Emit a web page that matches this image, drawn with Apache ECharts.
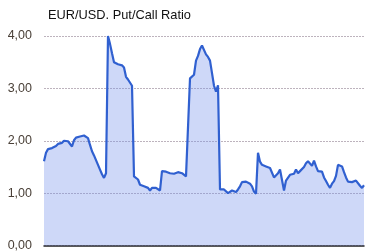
<!DOCTYPE html>
<html>
<head>
<meta charset="utf-8">
<script src="https://cdn.jsdelivr.net/npm/echarts@6/dist/echarts.min.js"></script>
<style>
html,body{margin:0;padding:0;background:#fff;}
#c{width:368px;height:252px;}
</style>
</head>
<body>
<div id="c"></div>
<script>
var titleText = 'EUR/USD. Put/Call Ratio';
var yTickLabels = ['0,00', '1,00', '2,00', '3,00', '4,00'];
var ratioValues = [
  1.61,1.77,1.84,1.87,1.86,1.88,1.90,1.94,1.93,1.96,
  2.00,2.00,1.99,1.99,1.89,2.01,2.06,2.06,2.08,2.11,
  2.10,2.10,2.05,1.92,1.80,1.72,1.63,1.54,1.45,1.36,
  1.29,1.38,4.00,3.85,3.67,3.50,3.48,3.46,3.44,3.44,
  3.40,3.22,3.17,3.14,3.05,1.32,1.29,1.26,1.16,1.16,
  1.13,1.12,1.10,1.05,1.10,1.07,1.10,1.07,1.05,1.42,
  1.40,1.41,1.40,1.38,1.40,1.37,1.38,1.40,1.37,1.38,
  1.35,1.32,1.34,3.19,3.21,3.26,3.53,3.62,3.75,3.82,
  3.80,3.65,3.60,3.53,3.29,3.05,2.94,3.06,1.07,1.10,
  1.07,1.08,1.00,1.03,1.05,1.03,1.02,1.07,1.13,1.21,
  1.21,1.22,1.21,1.18,1.13,1.03,0.99,1.77,1.60,1.54,
  1.52,1.51,1.50,1.48,1.45,1.30,1.27,1.38,1.45,1.43,
  1.05,1.24,1.27,1.35,1.35,1.37,1.45,1.38,1.42,1.45,
  1.50,1.57,1.61,1.61,1.52,1.62,1.51,1.42,1.42,1.41,
  1.30,1.23,1.16,1.10,1.18,1.23,1.33,1.54,1.53,1.51,
  1.40,1.30,1.22,1.21,1.21,1.22,1.24,1.21,1.14,1.10,
  1.15
];
var categories = ratioValues.map(function(v, i){ return String(i + 1); });

var chart = echarts.init(document.getElementById('c'), null, {renderer: 'canvas'});
chart.setOption({
  animation: false,
  backgroundColor: '#ffffff',
  title: {
    text: titleText,
    left: 43, top: 4,
    textStyle: {fontFamily: 'Liberation Sans, Arial, sans-serif', fontSize: 12.8, fontWeight: 'normal', color: '#111'}
  },
  grid: {left: 44, right: 4, top: 36, bottom: 6, containLabel: false},
  xAxis: {
    type: 'category',
    data: categories,
    boundaryGap: false,
    axisLine: {show: true, lineStyle: {color: '#222', width: 1.5}},
    axisTick: {show: false},
    axisLabel: {show: false},
    splitLine: {show: false}
  },
  yAxis: {
    type: 'value',
    min: 0, max: 4, interval: 1,
    axisLine: {show: false},
    axisTick: {show: false},
    axisLabel: {
      margin: 12,
      color: '#4a4038',
      fontFamily: 'Liberation Sans, Arial, sans-serif',
      fontSize: 12.5,
      formatter: function(v){ return yTickLabels[Math.round(v)]; }
    },
    splitLine: {show: true, lineStyle: {color: '#bdb3bd', type: [2, 1], width: 1}}
  },
  series: [{
    type: 'line',
    data: ratioValues,
    showSymbol: false,
    symbol: 'none',
    lineStyle: {color: '#3060d0', width: 2.2},
    areaStyle: {color: 'rgba(115,145,235,0.5)'}
  }]
});
</script>
</body>
</html>
